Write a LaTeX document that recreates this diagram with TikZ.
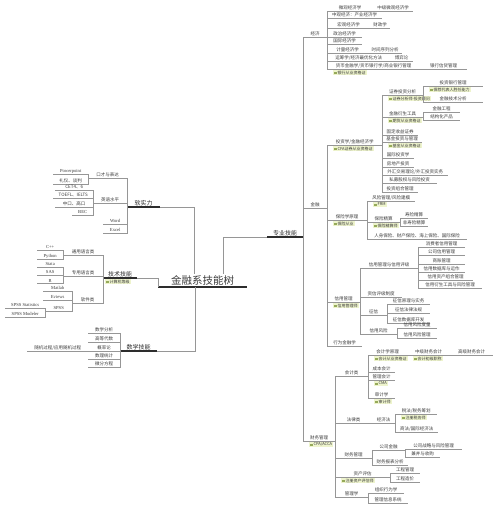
\documentclass[tikz,border=0pt]{standalone}
\usepackage{fontspec}
\setmainfont{Liberation Serif}
\newfontfamily\cjk{Noto Sans CJK SC}
\usetikzlibrary{positioning}
\definecolor{txt}{RGB}{60,60,60}
\definecolor{lnc}{RGB}{150,150,150}
\definecolor{dk}{RGB}{45,45,45}
\definecolor{tagbg}{RGB}{238,244,205}
\definecolor{icn}{RGB}{150,170,90}
\newcommand{\tic}{{\color{icn}\rule[-0.2pt]{2.4pt}{2.4pt}}\hspace{1pt}}
\begin{document}
\begin{tikzpicture}[x=1pt,y=-1pt,
	ln/.style={draw=lnc,line width=0.45pt},
	thk/.style={draw=dk,line width=1.1pt},
	tp/.style={font=\cjk\fontsize{4.5}{5.4}\selectfont,text=txt,anchor=south west,inner xsep=0.5pt,inner ysep=0.8pt,
		append after command={(\tikzlastnode.south west) edge[ln] (\tikzlastnode.south east)}},
	en/.style={font=\rmfamily\fontsize{4.6}{5.4}\selectfont},
	mt/.style={font=\cjk\fontsize{6}{7}\selectfont,text=dk,anchor=south west,inner sep=1pt,
		append after command={(\tikzlastnode.south west) edge[thk] (\tikzlastnode.south east)}},
	tg/.style={fill=tagbg,font=\cjk\fontsize{4}{4.6}\selectfont,text=txt,inner xsep=1pt,inner ysep=0.6pt}]
	\fill[white] (0,0) rectangle (500,505);
	\useasboundingbox (0,0) rectangle (500,505);

	% centre
	\node[font=\cjk\fontsize{10.5}{12}\selectfont,text=txt,anchor=south west,minimum width=89pt,inner sep=1.5pt,
		append after command={(\tikzlastnode.south west) edge[draw=dk,line width=1.3pt] (\tikzlastnode.south east)}] (root) at (158,287) {金融系技能树};
	\node[mt,minimum width=33pt] (rsl) at (127,207) {软实力};
	\node[mt,minimum width=34pt] (jsjn) at (103,278) {技术技能};
	\node[tg,below right=1pt and 2pt of jsjn.south west] (jsjnt) {\tic 计算机等级};
	\node[mt,minimum width=37pt] (sxjn) at (120,351) {数学技能};
	\node[mt,minimum width=36pt] (zyjn) at (267,237) {专业技能};
	\draw[ln] ([xshift=-8pt]root.north) |- (rsl.south east);
	\draw[ln] ([xshift=21pt]root.north) |- (zyjn.south west);
	\draw[ln] (root.south west) |- (jsjn.south east);
	\draw[ln] ([xshift=-7.5pt]root.south) |- (sxjn.south east);

	% soft skills
	\node[tp,minimum width=39pt] (kc) at (88,178) {口才与表达};
	\node[tp,en,minimum width=35pt] (ppt) at (53,174) {Powerpoint};
	\node[tp,minimum width=35pt] (ly) at (53,184) {礼仪、谈判};
	\node[tp,minimum width=34pt] (yy) at (93,203) {英语水平};
	\node[tp,minimum width=38pt] (cet) at (55,190) {CET4、6};
	\node[tp,minimum width=40pt] (toefl) at (53,198) {TOEFL、IELTS};
	\node[tp,minimum width=38pt] (zk) at (55,207) {中口、高口};
	\node[tp,en,minimum width=21pt] (bec) at (72,215) {BEC};
	\node[tp,en,minimum width=24pt] (word) at (103,224) {Word};
	\node[tp,en,minimum width=24pt] (excel) at (103,233) {Excel};
	\draw[ln] (rsl.south west) |- (kc.south east) (rsl.south west) |- (yy.south east)
		(rsl.south west) |- (word.south east) (rsl.south west) |- (excel.south east);
	\draw[ln] (kc.south west) |- (ppt.south east) (kc.south west) |- (ly.south east);
	\draw[ln] (yy.south west) |- (cet.south east) (yy.south west) |- (toefl.south east)
		(yy.south west) |- (zk.south east) (yy.south west) |- (bec.south east);

	% technical skills
	\node[tp,minimum width=40pt] (ty) at (63,255) {通用语言类};
	\node[tp,en,minimum width=26pt] (cpp) at (37,250) {C++};
	\node[tp,en,minimum width=26pt] (py) at (37,259) {Python};
	\node[tp,minimum width=40pt] (zy) at (63,276) {专用语言类};
	\node[tp,en,minimum width=26pt] (stata) at (37,267) {Stata};
	\node[tp,en,minimum width=26pt] (sas) at (37,275) {SAS};
	\node[tp,en,minimum width=26pt] (rr) at (37,283) {R};
	\node[tp,minimum width=31pt] (rj) at (72,303) {软件类};
	\node[tp,en,minimum width=29pt] (matlab) at (43,291) {Matlab};
	\node[tp,en,minimum width=29pt] (eviews) at (43,300) {Eviews};
	\node[tp,en,minimum width=27pt] (spss) at (45,311) {SPSS};
	\node[tp,en,minimum width=40pt] (spsss) at (5,308) {SPSS Statistics};
	\node[tp,en,minimum width=40pt] (spssm) at (5,317) {SPSS Modeler};
	\draw[ln] (jsjn.south west) |- (ty.south east) (jsjn.south west) |- (zy.south east) (jsjn.south west) |- (rj.south east);
	\draw[ln] (ty.south west) |- (cpp.south east) (ty.south west) |- (py.south east);
	\draw[ln] (zy.south west) |- (stata.south east) (zy.south west) |- (sas.south east) (zy.south west) |- (rr.south east);
	\draw[ln] (rj.south west) |- (matlab.south east) (rj.south west) |- (eviews.south east) (rj.south west) |- (spss.south east);
	\draw[ln] (spss.south west) |- (spsss.south east) (spss.south west) |- (spssm.south east);

	% maths
	\node[tp,minimum width=32pt] (sxfx) at (88,333) {数学分析};
	\node[tp,minimum width=32pt] (gdds) at (88,342) {高等代数};
	\node[tp,minimum width=32pt] (gll) at (88,351) {概率论};
	\node[tp,minimum width=61pt] (sjgc) at (27,351) {随机过程/应用随机过程};
	\node[tp,minimum width=32pt] (sltj) at (88,359) {数理统计};
	\node[tp,minimum width=32pt] (wffc) at (88,367) {微分方程};
	\draw[ln] (sxjn.south west) |- (sxfx.south east) (sxjn.south west) |- (gdds.south east) (sxjn.south west) |- (gll.south east)
		(sxjn.south west) |- (sltj.south east) (sxjn.south west) |- (wffc.south east);
	\draw[ln] (gll.south west) -- (sjgc.south east);

	% economics
	\node[tp,minimum width=24pt] (jj) at (303,37) {经济};
	\node[tp,minimum width=46pt] (wg) at (327,11) {微观经济学};
	\node[tp,minimum width=40pt] (zjwg) at (373,11) {中级微观经济学};
	\node[tp,minimum width=55pt] (zg) at (327,18) {中观经济：产业经济学};
	\node[tp,minimum width=43pt] (hg) at (327,28) {宏观经济学};
	\node[tp,minimum width=20pt] (czx) at (370,28) {财政学};
	\node[tp,minimum width=35pt] (zz) at (327,37) {政治经济学};
	\node[tp,minimum width=35pt] (gj) at (327,44) {国际经济学};
	\node[tp,minimum width=41pt] (jl) at (327,53) {计量经济学};
	\node[tp,minimum width=34pt] (sjxl) at (368,53) {时间序列分析};
	\node[tp,minimum width=63pt] (ycx) at (327,61) {运筹学/经济最优化方法};
	\node[tp,minimum width=23pt] (byl) at (390,61) {博弈论};
	\node[tp,minimum width=93pt] (hbjr) at (327,69) {货币金融学/货币银行学/商业银行管理};
	\node[tp,minimum width=47pt] (yhxd) at (420,69) {银行信贷管理};
	\node[tg,below right=1pt and 6pt of hbjr.south west] (hbjrt) {\tic 银行从业资格证};
	\draw[ln] (jj.south east) |- (wg.south west) (jj.south east) |- (zg.south west) (jj.south east) |- (hg.south west)
		(jj.south east) |- (zz.south west) (jj.south east) |- (gj.south west) (jj.south east) |- (jl.south west)
		(jj.south east) |- (ycx.south west) (jj.south east) |- (hbjr.south west);
	\draw[ln] (wg.south east) -- (zjwg.south west) (hg.south east) -- (czx.south west) (jl.south east) -- (sjxl.south west)
		(ycx.south east) -- (byl.south west) (hbjr.south east) -- (yhxd.south west);

	% finance
	\node[tp,minimum width=24pt] (jr) at (303,208) {金融};
	\node[tp,minimum width=55pt] (tzx) at (327,145) {投资学/金融经济学};
	\node[tg,below right=1pt and 6pt of tzx.south west] (tzxt) {\tic CFA证券从业资格证};
	\node[tp,minimum width=41pt] (zqtz) at (382,95) {证券投资分析};
	\node[tg,below right=1pt and 6pt of zqtz.south west] (zqtzt) {\tic 证券分析师-投资顾问};
	\node[tp,minimum width=60pt] (tyyh) at (423,86) {投资银行管理};
	\node[tg,below right=1pt and 6pt of tyyh.south west] (tyyht) {\tic 保荐代表人胜任能力};
	\node[tp,minimum width=60pt] (jrjs) at (423,102) {金融技术分析};
	\node[tp,minimum width=41pt] (ysgj) at (382,117) {金融衍生工具};
	\node[tg,below right=1pt and 6pt of ysgj.south west] (ysgjt) {\tic 期货从业资格证};
	\node[tp,minimum width=37pt] (jrgc) at (423,112) {金融工程};
	\node[tp,minimum width=37pt] (jghcp) at (423,120) {结构化产品};
	\node[tp,minimum width=36pt] (gdsy) at (382,135) {固定收益证券};
	\node[tp,minimum width=40pt] (jjtz) at (382,142) {基金投资与管理};
	\node[tg,below right=1pt and 6pt of jjtz.south west] (jjtzt) {\tic 基金从业资格证};
	\node[tp,minimum width=32pt] (gjtz) at (382,158) {国际投资学};
	\node[tp,minimum width=32pt] (fdc) at (382,167) {房地产投资};
	\node[tp,minimum width=66pt] (wh) at (382,175) {外汇交易理论/外汇投资实务};
	\node[tp,minimum width=55pt] (smgq) at (382,183) {私募股权与风险投资};
	\node[tp,minimum width=36pt] (tzzh) at (382,192) {投资组合管理};
	\draw[ln] (tzx.south east) |- (zqtz.south west) (tzx.south east) |- (ysgj.south west) (tzx.south east) |- (gdsy.south west)
		(tzx.south east) |- (jjtz.south west) (tzx.south east) |- (gjtz.south west) (tzx.south east) |- (fdc.south west)
		(tzx.south east) |- (wh.south west) (tzx.south east) |- (smgq.south west) (tzx.south east) |- (tzzh.south west);
	\draw[ln] (zqtz.south east) |- (tyyh.south west) (zqtz.south east) |- (jrjs.south west);
	\draw[ln] (ysgj.south east) |- (jrgc.south west) (ysgj.south east) |- (jghcp.south west);

	\node[tp,minimum width=40pt] (bx) at (327,220) {保险学原理};
	\node[tg,below right=1pt and 6pt of bx.south west] (bxt) {\tic 保险从业};
	\node[tp,minimum width=48pt] (fxgl) at (367,201) {风险管理/风险建模};
	\node[tg,below right=1pt and 6pt of fxgl.south west] (fxglt) {\tic FRM};
	\node[tp,minimum width=33pt] (bxjs) at (367,222) {保险精算};
	\node[tg,below right=1pt and 6pt of bxjs.south west] (bxjst) {\tic 保险精算师};
	\node[tp,minimum width=28pt] (sxjs) at (400,218) {寿险精算};
	\node[tp,minimum width=28pt] (fsxjs) at (400,226) {非寿险精算};
	\node[tp,minimum width=100pt] (rsbx) at (367,239) {人身保险、财产保险、海上保险、国际保险};
	\draw[ln] (bx.south east) |- (fxgl.south west) (bx.south east) |- (bxjs.south west) (bx.south east) |- (rsbx.south west);
	\draw[ln] (bxjs.south east) |- (sxjs.south west) (bxjs.south east) |- (fsxjs.south west);

	\node[tp,minimum width=33pt] (xygl) at (327,302) {信用管理};
	\node[tg,below right=1pt and 6pt of xygl.south west] (xyglt) {\tic 信用管理师};
	\node[tp,minimum width=58pt] (xypj) at (360,268) {信用管理与信用评级};
	\node[tp,minimum width=47pt] (xf) at (418,247) {消费者信用管理};
	\node[tp,minimum width=47pt] (gsxy) at (418,255) {公司信用管理};
	\node[tp,minimum width=47pt] (szgl) at (418,264) {商账管理};
	\node[tp,minimum width=47pt] (xysj) at (418,272) {信用数据库与运作};
	\node[tp,minimum width=55pt] (xyzc) at (418,280) {信用资产组合管理};
	\node[tp,minimum width=64pt] (xyys) at (418,288) {信用衍生工具与风险管理};
	\node[tp,minimum width=42pt] (zxpj) at (360,297) {资信评级制度};
	\node[tp,minimum width=27pt] (zx) at (360,315) {征信};
	\node[tp,minimum width=43pt] (zxyl) at (387,304) {征信原理与实务};
	\node[tp,minimum width=43pt] (zxfl) at (387,313) {征信法律法规};
	\node[tp,minimum width=43pt] (zxsj) at (387,323) {征信数据库开发};
	\node[tp,minimum width=37pt] (xyfx) at (360,334) {信用风险};
	\node[tp,minimum width=40pt] (fxdl) at (397,328) {信用风险度量};
	\node[tp,minimum width=40pt] (xyfg) at (397,338) {信用风险管理};
	\node[tp,minimum width=35pt] (xwjr) at (327,346) {行为金融学};
	\draw[ln] (xygl.south east) |- (xypj.south west) (xygl.south east) |- (zxpj.south west)
		(xygl.south east) |- (zx.south west) (xygl.south east) |- (xyfx.south west);
	\draw[ln] (xypj.south east) |- (xf.south west) (xypj.south east) |- (gsxy.south west) (xypj.south east) |- (szgl.south west)
		(xypj.south east) |- (xysj.south west) (xypj.south east) |- (xyzc.south west) (xypj.south east) |- (xyys.south west);
	\draw[ln] (zx.south east) |- (zxyl.south west) (zx.south east) |- (zxfl.south west) (zx.south east) |- (zxsj.south west);
	\draw[ln] (xyfx.south east) |- (fxdl.south west) (xyfx.south east) |- (xyfg.south west);
	\draw[ln] (jr.south east) |- (tzx.south west) (jr.south east) |- (bx.south west)
		(jr.south east) |- (xygl.south west) (jr.south east) |- (xwjr.south west);

	% financial management
	\node[tp,minimum width=32pt] (cwgl) at (303,441) {财务管理};
	\node[tg,below right=1pt and 6pt of cwgl.south west] (cwglt) {\tic CPA/ACCA};
	\node[tp,minimum width=33pt] (kjl) at (335,376) {会计类};
	\node[tp,minimum width=39pt] (kjyl) at (368,355) {会计学原理};
	\node[tg,below right=1pt and 6pt of kjyl.south west] (kjylt) {\tic 会计从业资格证};
	\node[tp,minimum width=43pt] (zjcw) at (407,355) {中级财务会计};
	\node[tg,below right=1pt and 6pt of zjcw.south west] (zjcwt) {\tic 会计初级职称};
	\node[tp,minimum width=43pt] (gjcw) at (450,355) {高级财务会计};
	\node[tp,minimum width=27pt] (cbkj) at (368,372) {成本会计};
	\node[tp,minimum width=27pt] (glkj) at (368,380) {管理会计};
	\node[tg,below right=1pt and 6pt of glkj.south west] (glkjt) {\tic CMA};
	\node[tp,minimum width=27pt] (sjx) at (368,398) {审计学};
	\node[tg,below right=1pt and 6pt of sjx.south west] (sjxt) {\tic 审计师};
	\draw[ln] (kjl.south east) |- (kjyl.south west) (kjl.south east) |- (cbkj.south west)
		(kjl.south east) |- (glkj.south west) (kjl.south east) |- (sjx.south west);
	\draw[ln] (kjyl.south east) -- (zjcw.south west) (zjcw.south east) -- (gjcw.south west);

	\node[tp,minimum width=37pt] (flb) at (335,423) {法律类};
	\node[tp,minimum width=23pt] (jjf) at (372,423) {经济法};
	\node[tp,minimum width=42pt] (sf) at (395,414) {税法/税务筹划};
	\node[tg,below right=1pt and 6pt of sf.south west] (sft) {\tic 注册税务师};
	\node[tp,minimum width=43pt] (sfgj) at (395,432) {商法/国际经济法};
	\draw[ln] (flb.south east) -- (jjf.south west);
	\draw[ln] (jjf.south east) |- (sf.south west) (jjf.south east) |- (sfgj.south west);

	\node[tp,minimum width=37pt] (cwgl2) at (335,458) {财务管理};
	\node[tp,minimum width=33pt] (gsjr) at (372,450) {公司金融};
	\node[tp,minimum width=57pt] (gszl) at (405,449) {公司战略与风险管理};
	\node[tp,minimum width=35pt] (bbsg) at (405,457) {兼并与收购};
	\node[tp,minimum width=36pt] (cwbb) at (372,465) {财务报表分析};
	\draw[ln] (cwgl2.south east) |- (gsjr.south west) (cwgl2.south east) |- (cwbb.south west);
	\draw[ln] (gsjr.south east) |- (gszl.south west) (gsjr.south east) |- (bbsg.south west);

	\node[tp,minimum width=55pt] (zcpg) at (335,477) {资产评估};
	\node[tg,below right=1pt and 6pt of zcpg.south west] (zcpgt) {\tic 注册资产评估师};
	\node[tp,minimum width=30pt] (gcgl) at (390,473) {工程管理};
	\node[tp,minimum width=30pt] (gczj) at (390,482) {工程造价};
	\draw[ln] (zcpg.south east) |- (gcgl.south west) (zcpg.south east) |- (gczj.south west);

	\node[tp,minimum width=33pt] (glx) at (335,497) {管理学};
	\node[tp,minimum width=36pt] (zzxw) at (368,493) {组织行为学};
	\node[tp,minimum width=40pt] (glxx) at (368,503) {管理信息系统};
	\draw[ln] (glx.south east) |- (zzxw.south west) (glx.south east) |- (glxx.south west);
	\draw[ln] (cwgl.south east) |- (kjl.south west) (cwgl.south east) |- (flb.south west) (cwgl.south east) |- (cwgl2.south west)
		(cwgl.south east) |- (zcpg.south west) (cwgl.south east) |- (glx.south west);

	% trunk
	\draw[ln] (zyjn.south east) |- (jj.south west) (zyjn.south east) |- (jr.south west) (zyjn.south east) |- (cwgl.south west);
\end{tikzpicture}
\end{document}
